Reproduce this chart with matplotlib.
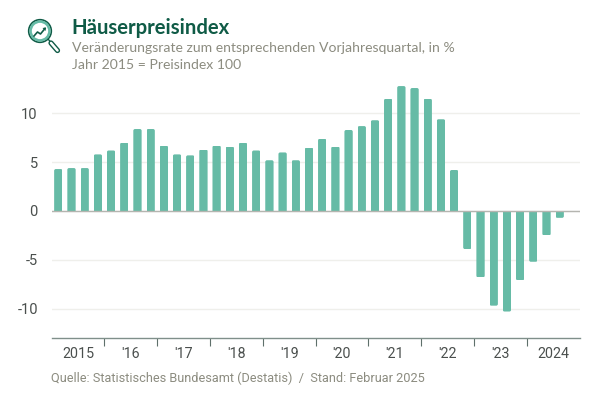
import matplotlib
matplotlib.use('Agg')
import matplotlib.pyplot as plt
from matplotlib.patches import Circle, FancyBboxPatch, Polygon
from matplotlib.lines import Line2D

# quarterly change in percent, Q1 2015 to Q3 2024
values = [4.3, 4.4, 4.4, 5.8,
          6.2, 7.0, 8.4, 8.4,
          6.7, 5.8, 5.7, 6.3,
          6.7, 6.6, 7.0, 6.2,
          5.2, 6.0, 5.2, 6.5,
          7.4, 6.6, 8.3, 8.7,
          9.3, 11.5, 12.8, 12.6,
          11.5, 9.4, 4.2, -3.9,
          -6.8, -9.7, -10.3, -7.1,
          -5.2, -2.5, -0.7]
year_labels = ['2015', "'16", "'17", "'18", "'19", "'20", "'21", "'22", "'23", '2024']
y_ticks = [-10, -5, 0, 5, 10]

W, H = 600, 394
BAR = '#66BBA6'
DARK = '#0F5B46'
GREY = '#8C8C80'
TICK = '#4A4F4D'

fig = plt.figure(figsize=(W / 100, H / 100), dpi=100)

# axes box in pixels of the reference
left, right, top, bottom = 51.7, 579.5, 80.0, 338.0
ax = fig.add_axes([left / W, 1 - bottom / H, (right - left) / W, (bottom - top) / H])
px_per_unit = 9.76
ax.set_xlim(0, 40)
ax.set_ylim(-(bottom - 211) / px_per_unit, (211 - top) / px_per_unit)
for s in ['top', 'left', 'right']:
    ax.spines[s].set_visible(False)
ax.spines['bottom'].set_color('#7F8F8A')
ax.spines['bottom'].set_linewidth(1)

ax.set_yticks(y_ticks)
ax.set_yticklabels([str(v) for v in y_ticks], fontfamily='Roboto', fontsize=10.5, color=TICK)
ax.tick_params(axis='y', length=0, pad=10)
ax.set_axisbelow(True)
ax.grid(axis='y', color='#EFEFEB', linewidth=1)

ax.set_xticks([4 * i for i in range(1, 10)])
ax.set_xticklabels([])
ax.tick_params(axis='x', length=6, width=0.8, color='#5F706B', direction='out')

positions = [i + 0.5 for i in range(len(values))]
bars = ax.bar(positions, values, width=0.63, color=BAR, linewidth=0, zorder=3)
unit_aspect = (right - left) / 40 / px_per_unit
# round only the far end of each bar
for bar, v in zip(bars, values):
    ext = 1.0
    y0 = -ext if v > 0 else v
    clip = FancyBboxPatch((bar.get_x(), y0), bar.get_width(), abs(v) + ext,
                          boxstyle='round,pad=0,rounding_size=0.13',
                          mutation_aspect=unit_aspect, transform=ax.transData)
    bar.set_clip_path(clip)

ax.axhline(0, color='#B5B5B0', linewidth=1, zorder=4)

# year labels sit between the ticks
for i, lab in enumerate(year_labels):
    ax.text(4 * i + 2, -15.5 / (bottom - top), lab, transform=ax.get_xaxis_transform(),
            ha='center', va='center', fontfamily='Roboto', fontsize=10.3, color=TICK)

# overlay in pixel coordinates for header, footer and icon
ov = fig.add_axes([0, 0, 1, 1], zorder=5)
ov.set_xlim(0, W)
ov.set_ylim(H, 0)
ov.axis('off')
ov.patch.set_alpha(0)

ov.text(71.5, 28, 'Häuserpreisindex', fontfamily='Lato', fontweight='bold', fontsize=14.6,
        color=DARK, va='center', ha='left')
ov.text(71.5, 47.5, 'Veränderungsrate zum entsprechenden Vorjahresquartal, in %', fontfamily='Lato',
        fontsize=10.1, color=GREY, va='center', ha='left')
ov.text(71.5, 64.5, 'Jahr 2015 = Preisindex 100', fontfamily='Lato', fontsize=10.1, color=GREY,
        va='center', ha='left')
ov.text(51, 378, 'Quelle: Statistisches Bundesamt (Destatis)  /  Stand: Februar 2025',
        fontfamily='Roboto', fontsize=9.15, color=GREY, va='center', ha='left')

# magnifier icon
ov.add_patch(Circle((40, 31), 11.3, facecolor='white', edgecolor=DARK, linewidth=1.2))
ov.add_patch(Circle((40, 31), 9.4, facecolor='white', edgecolor=BAR, linewidth=1.8))
ov.add_line(Line2D([48.2, 50.5], [39.2, 42], color=DARK, linewidth=1.0))
ov.add_line(Line2D([51, 57.5], [43, 50.5], color=DARK, linewidth=3.8, solid_capstyle='round'))
ov.add_line(Line2D([51, 57.5], [43, 50.5], color='white', linewidth=1.8, solid_capstyle='round'))
ov.add_line(Line2D([34, 37.5, 40.5, 45], [36, 32, 34, 28.5], color=DARK, linewidth=1.2))
ov.add_patch(Polygon([[42.5, 28], [46, 27.5], [45.5, 31]], closed=True, facecolor=DARK, edgecolor='none'))

fig.savefig('out.png', dpi=100)
